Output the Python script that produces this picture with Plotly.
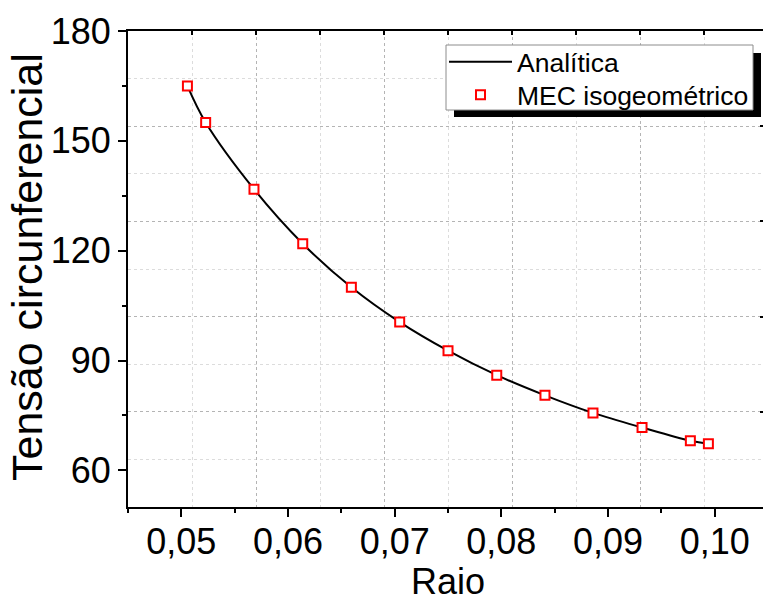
import plotly.graph_objects as go

# ---- data ----
raio_mec = [0.05057, 0.05228, 0.05681, 0.06138, 0.06594, 0.07047, 0.07500,
            0.07957, 0.08409, 0.08859, 0.09319, 0.09772, 0.09941]
tensao_mec = [165.0, 155.0, 136.8, 121.9, 110.0, 100.5, 92.7,
              86.0, 80.5, 75.7, 71.7, 68.1, 67.3]

raio_analitica = [0.05057, 0.05228, 0.05681, 0.06138, 0.06594, 0.07047, 0.07500,
                  0.07957, 0.08409, 0.08859, 0.09319, 0.09772, 0.09941]
tensao_analitica = [165.0, 155.0, 136.8, 121.9, 110.0, 100.5, 92.7,
                    86.0, 80.5, 75.7, 71.7, 68.1, 67.3]

x_ticks = [0.05, 0.06, 0.07, 0.08, 0.09, 0.10]
x_ticktext = ["0,05", "0,06", "0,07", "0,08", "0,09", "0,10"]
y_ticks = [60, 90, 120, 150, 180]

FONT = "Arial, Liberation Sans, sans-serif"
W, H = 763, 603
ML, MR, MT, MB = 128, 0, 31, 96
PW, PH = W - ML - MR, H - MB - MT
x_range = [0.045, 0.045 + PW / 10667.0]
y_range = [50, 180]


def px(xp):
    return (xp - ML) / PW


def py(yp):
    return (H - MB - yp) / PH


fig = go.Figure()
fig.add_trace(go.Scatter(
    x=raio_analitica, y=tensao_analitica, mode="lines", name="Analítica",
    line=dict(color="black", width=2, shape="spline"), legend="legend",
))
fig.add_trace(go.Scatter(
    x=raio_mec, y=tensao_mec, mode="markers", name="MEC isogeométrico",
    marker=dict(symbol="square", size=9, color="white",
                line=dict(color="#ff0000", width=2)), legend="legend2",
))
# helper trace for the top/right grid axes
fig.add_trace(go.Scatter(x=[None], y=[None], xaxis="x2", yaxis="y2",
                         showlegend=False, hoverinfo="skip"))

major_grid = "#b4b4b4"
minor_grid = "#dcdcdc"

leg_common = dict(xanchor="left", yanchor="middle", bgcolor="rgba(0,0,0,0)",
                  borderwidth=0, itemwidth=63,
                  font=dict(size=26.5, family=FONT, color="black"))

fig.update_layout(
    width=W, height=H,
    margin=dict(l=ML, r=MR, t=MT, b=MB, pad=0),
    paper_bgcolor="white", plot_bgcolor="white",
    font=dict(family=FONT, color="black"),
    showlegend=True,
    legend=dict(x=px(444), y=py(62), **leg_common),
    legend2=dict(x=px(444), y=py(95), **leg_common),
    xaxis=dict(
        range=x_range, tickvals=x_ticks, ticktext=x_ticktext,
        ticks="outside", ticklen=8, tickwidth=2, tickcolor="black",
        showline=True, linewidth=2, linecolor="black",
        showgrid=False, zeroline=False, ticklabelstandoff=-6,
        tickfont=dict(size=36, family=FONT),
        minor=dict(dtick=0.005, tick0=0.045, ticks="outside", ticklen=4,
                   tickwidth=2, tickcolor="black", showgrid=False),
    ),
    yaxis=dict(
        range=y_range, tickvals=y_ticks,
        ticks="outside", ticklen=8, tickwidth=2, tickcolor="black",
        showline=True, linewidth=2, linecolor="black",
        showgrid=False, zeroline=False,
        tickfont=dict(size=36, family=FONT),
        minor=dict(dtick=15, tick0=0, ticks="outside", ticklen=4,
                   tickwidth=2, tickcolor="black", showgrid=False),
    ),
    xaxis2=dict(
        overlaying="x", side="top", range=x_range,
        tick0=0.045, dtick=0.012, ticks="inside", ticklen=4, tickwidth=2,
        tickcolor="black", showticklabels=False,
        showline=True, linewidth=2, linecolor="black", zeroline=False,
        showgrid=True, gridcolor=major_grid, gridwidth=1, griddash="3px,3px",
        minor=dict(dtick=0.006, tick0=0.045, ticks="inside", ticklen=4,
                   tickwidth=2, tickcolor="black", showgrid=True,
                   gridcolor=minor_grid, gridwidth=1, griddash="3px,3px"),
    ),
    yaxis2=dict(
        overlaying="y", side="right", range=y_range,
        tick0=50, dtick=26, ticks="inside", ticklen=3, tickwidth=2,
        tickcolor="black", showticklabels=False,
        showline=False, zeroline=False,
        showgrid=True, gridcolor=major_grid, gridwidth=1, griddash="3px,3px",
        minor=dict(dtick=13, tick0=50, ticks="", showgrid=True,
                   gridcolor=minor_grid, gridwidth=1, griddash="3px,3px"),
    ),
    annotations=[
        dict(text="Raio", xref="paper", yref="paper",
             x=px(448), y=py(581),
             xanchor="center", yanchor="middle", showarrow=False,
             font=dict(size=36, family=FONT, color="black")),
        dict(text="Tensão circunferencial", xref="paper", yref="paper",
             x=px(27), y=py(267),
             xanchor="center", yanchor="middle", textangle=-90, showarrow=False,
             font=dict(size=43, family=FONT, color="black")),
    ],
    shapes=[
        dict(type="rect", xref="paper", yref="paper",
             x0=px(454), x1=px(761), y0=py(117), y1=py(53),
             fillcolor="black", line=dict(width=0), layer="above"),
        dict(type="rect", xref="paper", yref="paper",
             x0=px(446), x1=px(753), y0=py(110), y1=py(45),
             fillcolor="white", line=dict(width=1, color="#8c8c8c"),
             layer="above"),
    ],
)

fig.write_html("out.html")
